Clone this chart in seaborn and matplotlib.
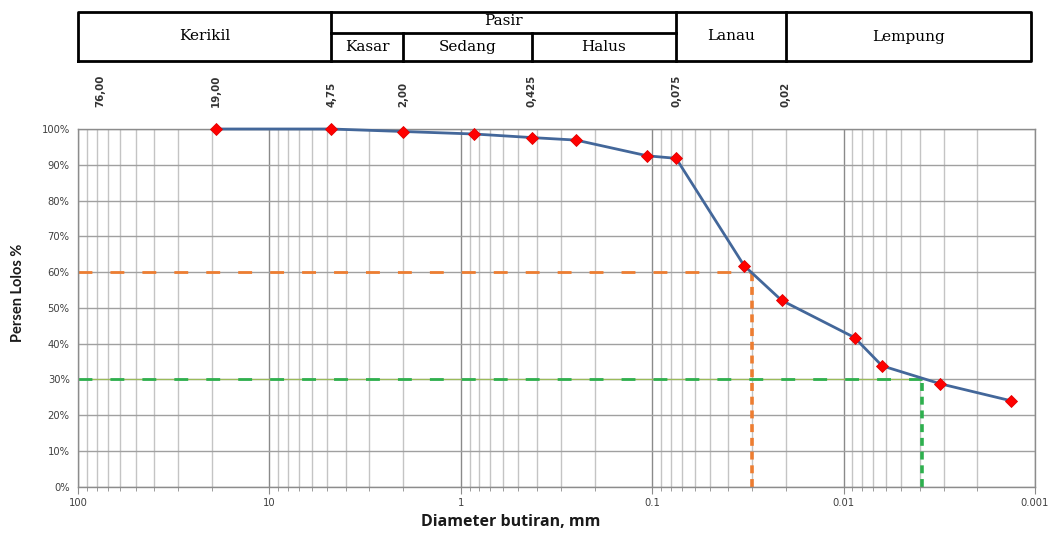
import numpy as np
import pandas as pd
import matplotlib
matplotlib.use("Agg")
import matplotlib.pyplot as plt
import seaborn as sns
from matplotlib.ticker import FixedLocator, FuncFormatter, PercentFormatter

# ---------------- data ----------------
diameter_mm = [19.0, 4.75, 2.0, 0.85, 0.425, 0.25, 0.106, 0.075,
               0.0331, 0.0211, 0.00877, 0.0063, 0.00314, 0.00133]
percent_passing = [100.0, 100.0, 99.3, 98.6, 97.6, 96.9, 92.5, 91.8,
                   61.8, 52.1, 41.7, 33.8, 28.8, 24.0]

d60 = 0.030
d30 = 0.0039
p60 = 60.0
p30 = 30.0

sieve_labels = ["76,00", "19,00", "4,75", "2,00", "0,425", "0,075", "0,02"]
sieve_sizes = [76.0, 19.0, 4.75, 2.0, 0.425, 0.075, 0.02]

xtick_values = [100, 10, 1, 0.1, 0.01, 0.001]
xtick_labels = ["100", "10", "1", "0.1", "0.01", "0.001"]

# classification table (boundaries in mm)
table_left = 100.0
table_right = 0.00105
gravel_sand = 4.75
coarse_medium = 2.0
medium_fine = 0.425
sand_silt = 0.075
silt_clay = 0.02

df = pd.DataFrame({"d": diameter_mm, "p": np.array(percent_passing) / 100.0})

# ---------------- figure ----------------
sns.set_style("white")
plt.rcParams["font.family"] = ["DejaVu Sans"]

W, H = 1052, 533
fig = plt.figure(figsize=(W / 100, H / 100), dpi=100)

left_px, right_px, top_px, bottom_px = 78, 1035, 129, 486.7
ax = fig.add_axes([left_px / W, 1 - bottom_px / H,
                   (right_px - left_px) / W, (bottom_px - top_px) / H])
ax.set_xscale("log")
ax.set_xlim(100, 0.001)
ax.set_ylim(0, 1.0)

# grid
ax.xaxis.set_major_locator(FixedLocator(xtick_values))
minor = [m * 10.0 ** e for e in range(-3, 2) for m in range(2, 10)]
ax.xaxis.set_minor_locator(FixedLocator(minor))
ax.xaxis.set_major_formatter(FuncFormatter(
    lambda v, pos: dict(zip(xtick_values, xtick_labels)).get(v, "")))
ax.xaxis.set_minor_formatter(FuncFormatter(lambda v, pos: ""))
ax.set_yticks(np.arange(0, 1.01, 0.1))
ax.yaxis.set_major_formatter(PercentFormatter(1.0, decimals=0))

ax.grid(which="major", axis="x", color="#8a8a8a", lw=1.0, zorder=0)
ax.grid(which="minor", axis="x", color="#c4c4c4", lw=1.0, zorder=0)
ax.grid(which="major", axis="y", color="#a0a0a0", lw=1.0, zorder=0)
ax.set_axisbelow(True)

for s in ax.spines.values():
    s.set_color("#8c8c8c")
    s.set_linewidth(1.0)

ax.tick_params(axis="x", which="major", length=5, color="#8c8c8c",
               labelsize=7.2, labelcolor="#404040", pad=3, direction="out",
               bottom=True)
ax.tick_params(axis="x", which="minor", length=3, color="#8c8c8c",
               direction="out", bottom=True)
ax.tick_params(axis="y", length=0, labelsize=7.2, labelcolor="#404040", pad=6)

# reference lines (D60 / D30)
ax.plot([100, d60], [p60 / 100] * 2, color="#ED7D31", lw=2.0,
        dashes=(5, 6.5), zorder=2)
ax.plot([d60, d60], [0, p60 / 100], color="#ED7D31", lw=2.6,
        dashes=(2.2, 1.6), zorder=2)
ax.plot([100, d30], [p30 / 100] * 2, color="#9BBB59", lw=0.9, zorder=2)
ax.plot([100, d30], [p30 / 100] * 2, color="#2EB04E", lw=2.0,
        dashes=(5, 6.5), zorder=2)
ax.plot([d30, d30], [0, p30 / 100], color="#2EB04E", lw=2.6,
        dashes=(2.2, 1.6), zorder=2)

# grading curve
sns.lineplot(data=df, x="d", y="p", ax=ax, sort=False, color="#43679A",
             lw=2.0, marker="D", markersize=6.5, markerfacecolor="#FF0000",
             markeredgecolor="#E00000", markeredgewidth=0.6, zorder=4,
             clip_on=False)

ax.set_xlabel("")
ax.set_ylabel("")

# sieve labels above plot
xtrans = ax.get_xaxis_transform()
y_lab = (bottom_px - 107) / (bottom_px - top_px)
for s, lab in zip(sieve_sizes, sieve_labels):
    ax.text(s, y_lab, lab, rotation=90, ha="center", va="bottom",
            fontsize=7.4, fontweight="bold", color="#333333",
            transform=xtrans, clip_on=False)

# axis titles
fig.text(511 / W, 1 - 522 / H, "Diameter butiran, mm", ha="center",
         va="center", fontsize=11.5, fontweight="bold", family="Open Sans",
         color="#1a1a1a")
fig.text(18 / W, 1 - 293 / H, "Persen Lolos %", ha="center", va="center",
         rotation=90, fontsize=10.5, fontweight="bold", family="Lato",
         color="#1a1a1a")

# ---------------- classification table ----------------
t_top, t_bot = 12, 61
tax = fig.add_axes([left_px / W, 1 - t_bot / H,
                    (right_px - left_px) / W, (t_bot - t_top) / H])
tax.set_xscale("log")
tax.set_xlim(100, 0.001)
tax.set_ylim(0, 1)
tax.axis("off")
mid = (t_bot - 33) / (t_bot - t_top)
lk = dict(color="black", lw=2.0, solid_capstyle="projecting", clip_on=False)
tax.plot([table_left, table_right, table_right, table_left, table_left],
         [0, 0, 1, 1, 0], **lk)
for b in [gravel_sand, sand_silt, silt_clay]:
    tax.plot([b, b], [0, 1], **lk)
for b in [coarse_medium, medium_fine]:
    tax.plot([b, b], [0, mid], **lk)
tax.plot([gravel_sand, sand_silt], [mid, mid], **lk)


def gm(a, b):
    return np.sqrt(a * b)


tf = dict(ha="center", va="center", fontsize=11, family="DejaVu Serif",
          color="black")
tax.text(gm(table_left, gravel_sand), 0.5, "Kerikil", **tf)
tax.text(gm(gravel_sand, sand_silt), (1 + mid) / 2 + 0.03, "Pasir", **tf)
tax.text(gm(gravel_sand, coarse_medium), mid / 2, "Kasar", **tf)
tax.text(gm(coarse_medium, medium_fine), mid / 2, "Sedang", **tf)
tax.text(gm(medium_fine, sand_silt), mid / 2, "Halus", **tf)
tax.text(gm(sand_silt, silt_clay), 0.5, "Lanau", **tf)
tax.text(gm(silt_clay, table_right), 0.5, "Lempung", **tf)

fig.savefig("out.png", dpi=100)
